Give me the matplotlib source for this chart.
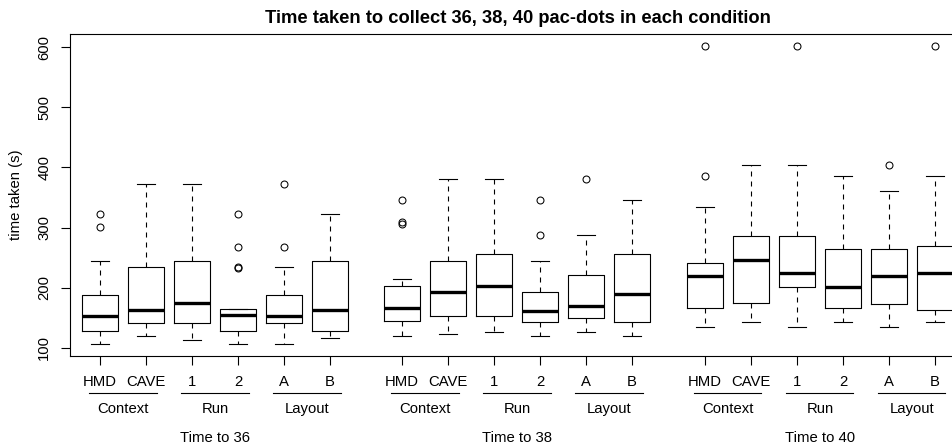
import matplotlib.pyplot as plt
from matplotlib.transforms import blended_transform_factory

plt.rcParams['font.family'] = ['Liberation Sans', 'DejaVu Sans']

conditions = ['HMD', 'CAVE', '1', '2', 'A', 'B']
factors = ['Context', 'Run', 'Layout']
targets = ['Time to 36', 'Time to 38', 'Time to 40']

# box stats, one value per condition
t36_lo = [106, 120, 114, 106, 106, 116]
t36_q1 = [128, 142, 142, 128, 142, 128]
t36_med = [153, 163, 175, 154, 153, 163]
t36_q3 = [188, 235, 244, 165, 188, 244]
t36_hi = [244, 372, 372, 165, 235, 323]
t36_out = [[323, 301], [], [], [323, 267, 235, 233], [372, 267], []]

t38_lo = [120, 124, 127, 120, 127, 120]
t38_q1 = [145, 153, 153, 143, 150, 143]
t38_med = [167, 193, 203, 162, 170, 190]
t38_q3 = [203, 245, 256, 193, 222, 256]
t38_hi = [214, 380, 380, 245, 287, 346]
t38_out = [[346, 309, 306], [], [], [346, 287], [380], []]

t40_lo = [135, 144, 135, 144, 135, 144]
t40_q1 = [166, 175, 201, 166, 173, 163]
t40_med = [219, 246, 225, 201, 220, 225]
t40_q3 = [241, 286, 286, 265, 265, 269]
t40_hi = [335, 404, 404, 386, 361, 386]
t40_out = [[601, 386], [], [601], [], [404], [601]]

groups = [
    (t36_lo, t36_q1, t36_med, t36_q3, t36_hi, t36_out),
    (t38_lo, t38_q1, t38_med, t38_q3, t38_hi, t38_out),
    (t40_lo, t40_q1, t40_med, t40_q3, t40_hi, t40_out),
]
bases = [1, 7.565, 14.15]

stats = []
positions = []
labels = []
for base, (lo, q1, med, q3, hi, out) in zip(bases, groups):
    for i in range(len(conditions)):
        stats.append(dict(whislo=lo[i], q1=q1[i], med=med[i], q3=q3[i],
                          whishi=hi[i], fliers=out[i]))
        positions.append(base + i)
        labels.append(conditions[i])

fig = plt.figure(figsize=(9.52, 4.48), dpi=100)
ax = fig.add_axes([70 / 952, 1 - 356 / 448, 896 / 952, 322 / 448])

ax.bxp(stats, positions=positions, widths=0.8, patch_artist=False,
       boxprops=dict(color='black', linewidth=0.8),
       medianprops=dict(color='black', linewidth=2.4, solid_capstyle='butt'),
       whiskerprops=dict(color='black', linewidth=0.8, linestyle=(0, (4.5, 4.5))),
       capprops=dict(color='black', linewidth=0.8),
       flierprops=dict(marker='o', markerfacecolor='none', markeredgecolor='black',
                       markersize=5, markeredgewidth=0.75))

ax.set_xlim(0.348, 19.826)
ax.set_ylim(86.7, 621.6)
ax.set_yticks([100, 200, 300, 400, 500, 600])
ax.set_xticks(positions, labels)
ax.tick_params(axis='both', length=6.5, width=0.8, pad=7, labelsize=10.7)
plt.setp(ax.get_yticklabels(), rotation=90, va='center')
for s in ax.spines.values():
    s.set_linewidth(0.8)

ax.set_title('Time taken to collect 36, 38, 40 pac-dots in each condition',
             fontsize=13.2, fontweight='bold', pad=8)
ax.set_ylabel('time taken (s)', fontsize=10.7)
ax.yaxis.set_label_coords(-0.052, 0.5)

# factor brackets and group captions under the axis
trans = blended_transform_factory(ax.transData, fig.transFigure)
for base, target in zip(bases, targets):
    for k, name in enumerate(factors):
        a = base + 2 * k
        b = a + 1
        ax.plot([a - 0.23, b + 0.23], [1 - 392.7 / 448] * 2, color='black',
                linewidth=0.8, transform=trans, clip_on=False)
        fig.text((a + b) / 2, 1 - 413 / 448, name, transform=trans,
                 ha='center', va='baseline', fontsize=10.7)
    fig.text(base + 2.5, 1 - 442 / 448, target, transform=trans,
             ha='center', va='baseline', fontsize=10.7)

fig.savefig('out.png', dpi=100)
